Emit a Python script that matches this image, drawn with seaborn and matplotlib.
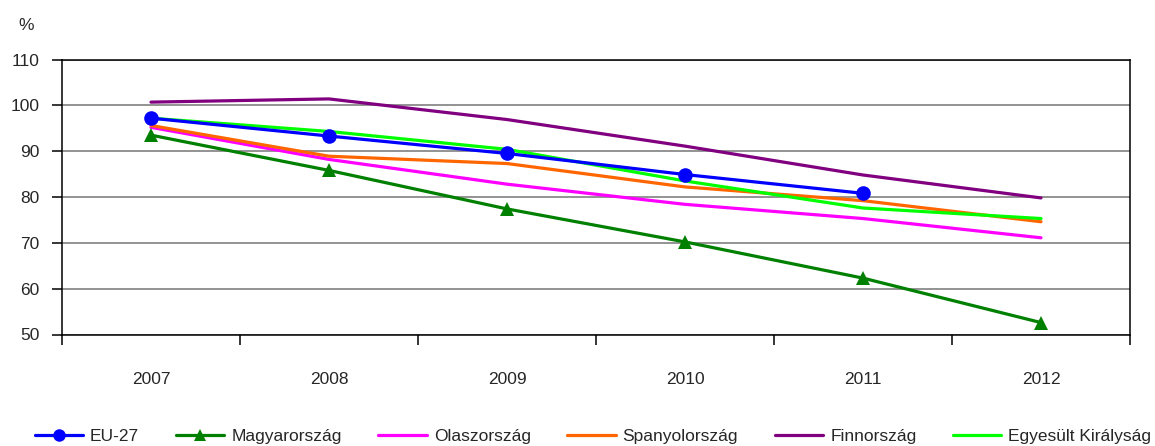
import numpy as np
import pandas as pd
import matplotlib
matplotlib.use("Agg")
import matplotlib.pyplot as plt
import seaborn as sns
from matplotlib.ticker import FixedLocator, NullFormatter

years = [2007, 2008, 2009, 2010, 2011, 2012]
eu27 = [97.2, 93.3, 89.5, 84.9, 80.8, np.nan]
magyarorszag = [93.5, 85.8, 77.4, 70.2, 62.3, 52.6]
olaszorszag = [95.2, 88.2, 82.8, 78.4, 75.3, 71.1]
spanyolorszag = [95.6, 88.9, 87.3, 82.2, 79.2, 74.6]
finnorszag = [100.7, 101.4, 96.9, 91.1, 84.8, 79.8]
egyesult_kiralysag = [97.2, 94.3, 90.4, 83.5, 77.6, 75.3]

series_names = ["EU-27", "Magyarország", "Olaszország", "Spanyolország",
                "Finnország", "Egyesült Királyság"]
series_values = [eu27, magyarorszag, olaszorszag, spanyolorszag,
                 finnorszag, egyesult_kiralysag]
colors = ["#0000FF", "#008000", "#FF00FF", "#FF6600", "#800080", "#00FF00"]
y_ticks = [50, 60, 70, 80, 90, 100, 110]

markers = {"EU-27": "o", "Magyarország": "^"}
zorders = {"EU-27": 8, "Magyarország": 7, "Olaszország": 3,
           "Spanyolország": 4, "Finnország": 5, "Egyesült Királyság": 6}

sns.set_style("white")
plt.rcParams["font.family"] = ["Liberation Sans", "DejaVu Sans"]

fig = plt.figure(figsize=(11.55, 4.46), dpi=100)
ax = fig.add_axes([62 / 1155, 1 - 334.5 / 446, (1130 - 62) / 1155, (334.5 - 59.5) / 446])

handles = []
for name, vals, col in zip(series_names, series_values, colors):
    d = pd.DataFrame({"year": years, "value": vals}).dropna()
    mk = markers.get(name, None)
    sns.lineplot(data=d, x="year", y="value", color=col, linewidth=2.3,
                 marker=mk, markersize=10.5, markeredgewidth=0, ax=ax,
                 zorder=zorders[name])
    h, = ax.plot([], [], color=col, lw=2.3, marker=mk, markersize=9,
                 markeredgewidth=0)
    handles.append(h)

ax.set_xlim(2006.5, 2012.5)
ax.set_ylim(50, 110)
ax.set_yticks(y_ticks)
ax.set_yticklabels([str(t) for t in y_ticks])
ax.yaxis.grid(True, color="#808080", linewidth=1.2)
ax.xaxis.grid(False)
ax.set_axisbelow(True)

ax.xaxis.set_major_locator(FixedLocator([y - 0.5 for y in years] + [years[-1] + 0.5]))
ax.xaxis.set_major_formatter(NullFormatter())
ax.set_xticks(years, minor=True)
ax.set_xticklabels([str(y) for y in years], minor=True)
ax.tick_params(axis="x", which="major", direction="out", length=7, width=1.1,
               color="black", bottom=True)
ax.tick_params(axis="x", which="minor", length=0, pad=27, labelsize=12.5)
ax.tick_params(axis="y", direction="out", length=7, width=1.1, color="black",
               left=True, pad=9, labelsize=12.5)
ax.set_xlabel("")
ax.set_ylabel("")

for sp in ax.spines.values():
    sp.set_color("black")
    sp.set_linewidth(1.1)
    sp.set_visible(True)

fig.text(26 / 1155, 1 - 25 / 446, "%", fontsize=12.5, ha="center", va="center")

fig.legend(handles, series_names, loc="center", ncol=6,
           bbox_to_anchor=(593 / 1155, 1 - 436 / 446), frameon=False,
           fontsize=12.5, handlelength=2.8, handletextpad=0.4,
           columnspacing=2.1, borderaxespad=0)

fig.savefig("out.png", dpi=100)
